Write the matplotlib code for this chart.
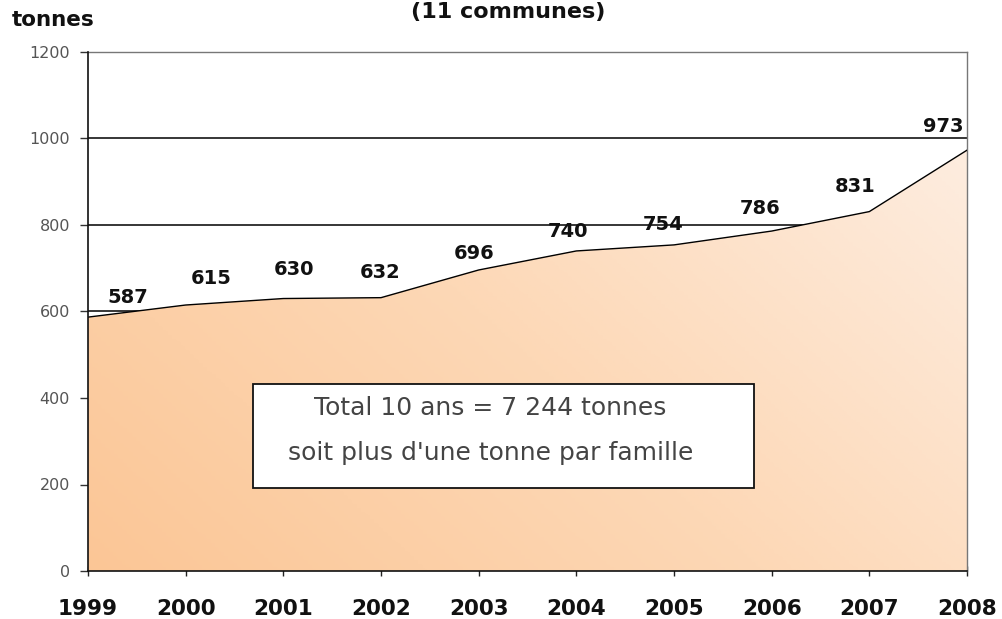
import numpy as np
import matplotlib
matplotlib.use("Agg")
import matplotlib.pyplot as plt
from matplotlib.colors import LinearSegmentedColormap
from matplotlib.patches import Polygon, Rectangle

years = [1999, 2000, 2001, 2002, 2003, 2004, 2005, 2006, 2007, 2008]
tonnes = [587, 615, 630, 632, 696, 740, 754, 786, 831, 973]
label_text = [str(v) for v in tonnes]
y_ticks = [0, 200, 400, 600, 800, 1000, 1200]

fig = plt.figure(figsize=(10.02, 6.19), dpi=100)
ax = fig.add_axes([88/1002, 48/619, 879/1002, 519/619])
ax.set_xlim(years[0], years[-1])
ax.set_ylim(0, 1200)

# gridlines behind area
for g in [1000, 800, 600]:
    ax.axhline(g, color="black", lw=1.1, zorder=1)

# gradient fill clipped by area polygon
xs = np.array(years, dtype=float)
ys = np.array(tonnes, dtype=float)
verts = [(xs[0], 0)] + list(zip(xs, ys)) + [(xs[-1], 0)]
poly = Polygon(verts, closed=True, facecolor="none", edgecolor="none")
ax.add_patch(poly)
nx, ny = 200, 200
gx, gy = np.meshgrid(np.linspace(0, 1, nx), np.linspace(0, 1, ny))
t = np.clip(0.65 * gx + 0.35 * gy, 0, 1)
cmap = LinearSegmentedColormap.from_list("o", ["#FBC696", "#FDD8B6", "#FDEDE0"])
im = ax.imshow(t, cmap=cmap, extent=[years[0], years[-1], 0, 1000], origin="lower",
               aspect="auto", zorder=2, vmin=0, vmax=1)
im.set_clip_path(poly)
ax.plot(xs, ys, color="black", lw=1.0, zorder=3)

# data labels
offsets = [(0.41, 46), (0.26, 62), (0.11, 66), (-0.01, 59), (-0.05, 39), (-0.09, 44),
           (-0.11, 48), (-0.12, 51), (-0.15, 57), (-0.24, 54)]
for x, y, s, (dx, dy) in zip(xs, ys, label_text, offsets):
    ax.text(x + dx, y + dy, s, ha="center", va="center", fontsize=14,
            fontweight="bold", color="#111111", zorder=4)

ax.set_yticks(y_ticks)
ax.set_yticklabels([str(v) for v in y_ticks], fontsize=11.5, color="#555555")
ax.set_xticks(years)
ax.set_xticklabels([str(y) for y in years], fontsize=15.5, fontweight="bold", color="#111111")
ax.tick_params(axis="y", length=6, width=1, color="#333333", pad=7)
ax.tick_params(axis="x", length=7, width=1, color="#222222", pad=17, direction="inout")
for side in ["left", "bottom"]:
    ax.spines[side].set_color("#111111")
    ax.spines[side].set_linewidth(1.2)
for side in ["top", "right"]:
    ax.spines[side].set_color("#777777")
    ax.spines[side].set_linewidth(1.0)
ax.spines["left"].set_zorder(5)
ax.spines["bottom"].set_zorder(5)

# annotation box
box = Rectangle((2000.69, 192), 5.13, 240, facecolor="white", edgecolor="#111111",
                lw=1.3, zorder=6)
ax.add_patch(box)
ax.text(2003.12, 377, "Total 10 ans = 7 244 tonnes", ha="center", va="center",
        fontsize=18, color="#444444", zorder=7)
ax.text(2003.12, 273, "soit plus d'une tonne par famille", ha="center", va="center",
        fontsize=18, color="#444444", zorder=7)

fig.text(12/1002, 1 - 20/619, "tonnes", fontsize=15.5, fontweight="bold", color="#111111",
         ha="left", va="center")
fig.text(508/1002, 1 - 18/619, "(11 communes)", fontsize=16, fontweight="bold", color="#111111",
         ha="center", va="baseline")

fig.savefig("out.png", dpi=100)
